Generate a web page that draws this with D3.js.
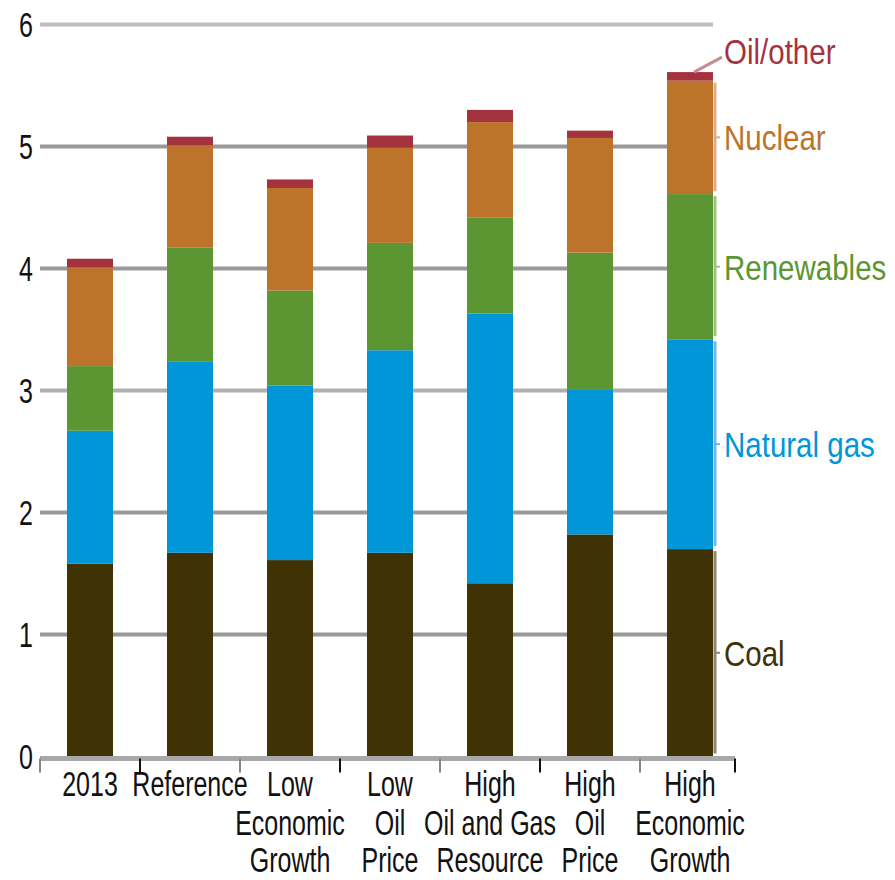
<!DOCTYPE html>
<html>
<head>
<meta charset="utf-8">
<script src="https://cdn.jsdelivr.net/npm/d3@7/dist/d3.min.js"></script>
<style>
  html, body { margin: 0; padding: 0; background: #fff; }
  svg { display: block; }
  text { font-family: "Liberation Sans", Arial, sans-serif; }
</style>
</head>
<body>
<script>
// ---- Data ----
const categories = ["2013", "Reference", "Low Economic Growth", "Low Oil Price",
  "High Oil and Gas Resource", "High Oil Price", "High Economic Growth"];
const categoryLines = [["2013"], ["Reference"], ["Low", "Economic", "Growth"],
  ["Low", "Oil", "Price"], ["High", "Oil and Gas", "Resource"],
  ["High", "Oil", "Price"], ["High", "Economic", "Growth"]];
const seriesNames = ["Coal", "Natural gas", "Renewables", "Nuclear", "Oil/other"];
const coal       = [1.58, 1.67, 1.61, 1.67, 1.42, 1.82, 1.70];
const naturalGas = [1.09, 1.57, 1.43, 1.66, 2.21, 1.19, 1.72];
const renewables = [0.53, 0.93, 0.78, 0.88, 0.79, 1.12, 1.19];
const nuclear    = [0.81, 0.84, 0.84, 0.78, 0.78, 0.94, 0.93];
const oilOther   = [0.07, 0.07, 0.07, 0.10, 0.10, 0.06, 0.07];
const yTicks = [0, 1, 2, 3, 4, 5, 6];

const colors = ["#3f3205", "#0096d8", "#5c9632", "#bd732a", "#a5333f"];
const bracketColors = ["#8c8370", "#6fb8e2", "#9dc27f", "#dcae86", "#c98a92"];

const W = 895, H = 880;
const svg = d3.select("body").append("svg").attr("width", W).attr("height", H);

const x = d3.scaleBand().domain(categories).range([40, 740])
  .paddingInner(0.54).paddingOuter(0.27);
const y = d3.scaleLinear().domain([0, 6]).range([756.5, 24.5]);

const table = categories.map((c, i) => ({
  cat: c, "Coal": coal[i], "Natural gas": naturalGas[i], "Renewables": renewables[i],
  "Nuclear": nuclear[i], "Oil/other": oilOther[i]
}));
const stacked = d3.stack().keys(seriesNames)(table);

// gridlines
svg.append("g").selectAll("line").data(yTicks.filter(t => t > 0)).join("line")
  .attr("x1", 40).attr("x2", 713)
  .attr("y1", d => y(d)).attr("y2", d => y(d))
  .attr("stroke", d => d === 6 ? "#bdbdbd" : (d === 3 ? "#b0b0b0" : "#999999"))
  .attr("stroke-width", 4);

// bars
svg.append("g").selectAll("g").data(stacked).join("g")
  .attr("fill", (d, i) => colors[i])
  .selectAll("rect").data(d => d).join("rect")
  .attr("x", d => x(d.data.cat))
  .attr("width", x.bandwidth())
  .attr("y", d => y(d[1]))
  .attr("height", d => y(d[0]) - y(d[1]));

// x axis line and ticks
const axisY = y(0) + 2;
svg.append("line").attr("x1", 40).attr("x2", 735).attr("y1", axisY).attr("y2", axisY)
  .attr("stroke", "#a9a9a9").attr("stroke-width", 5);
const tickPos = categories.map((c, i) => 40 + i * x.step()).concat([735]);
svg.append("g").selectAll("line").data(tickPos).join("line")
  .attr("x1", d => d).attr("x2", d => d)
  .attr("y1", axisY).attr("y2", axisY + 14)
  .attr("stroke", (d, i) => i % 2 ? "#111" : "#888").attr("stroke-width", 2);

// y tick labels
const sy = 1.4;
svg.append("g").selectAll("text").data(yTicks).join("text")
  .attr("transform", d => `translate(33,${y(d) + 12.5}) scale(1,${sy})`)
  .attr("text-anchor", "end").attr("font-size", 25).attr("fill", "#111")
  .text(d => d);

// x category labels
const lineBase = [796, 835, 872];
const xl = svg.append("g").selectAll("g").data(categories).join("g");
xl.each(function (c, i) {
  const cx = x(c) + x.bandwidth() / 2;
  d3.select(this).selectAll("text").data(categoryLines[i]).join("text")
    .attr("transform", (t, j) => `translate(${cx},${lineBase[j]}) scale(1,${sy})`)
    .attr("text-anchor", "middle").attr("font-size", 25).attr("fill", "#111")
    .text(t => t);
});

// right-hand labels with brackets on last bar
const lastIdx = categories.length - 1;
const lastCat = categories[lastIdx];
const bx = x(lastCat) + x.bandwidth() + 2;
stacked.forEach((s, k) => {
  const seg = s[lastIdx];
  const top = y(seg[1]), bot = y(seg[0]);
  const mid = (top + bot) / 2;
  if (k < 4) {
    svg.append("line").attr("x1", bx).attr("x2", bx)
      .attr("y1", top + 2).attr("y2", bot - 3)
      .attr("stroke", bracketColors[k]).attr("stroke-width", 3);
    svg.append("line").attr("x1", bx + 1).attr("x2", bx + 5)
      .attr("y1", mid).attr("y2", mid)
      .attr("stroke", bracketColors[k]).attr("stroke-width", 2);
    svg.append("text")
      .attr("transform", `translate(724,${mid + 13}) scale(1,1.2)`)
      .attr("font-size", 29.5).attr("fill", colors[k]).text(seriesNames[k]);
  } else {
    const lx0 = x(lastCat) + x.bandwidth() / 2 + 4;
    svg.append("line").attr("x1", lx0).attr("y1", top)
      .attr("x2", 722).attr("y2", top - 15)
      .attr("stroke", bracketColors[k]).attr("stroke-width", 3);
    svg.append("text")
      .attr("transform", `translate(724,${top - 8}) scale(1,1.2)`)
      .attr("font-size", 29.5).attr("fill", colors[k]).text(seriesNames[k]);
  }
});
</script>
</body>
</html>
